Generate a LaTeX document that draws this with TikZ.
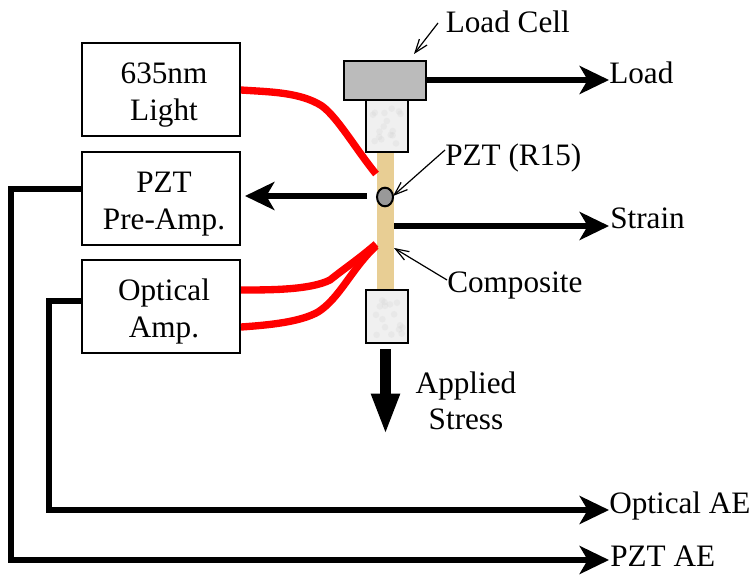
\documentclass[tikz,border=0pt]{standalone}
\usepackage{fontspec}
\setmainfont{Liberation Serif}
\usetikzlibrary{arrows.meta,shapes.geometric}
\definecolor{compcol}{HTML}{E8CE94}
\definecolor{gripcol}{HTML}{F0F0F0}
\definecolor{cellcol}{HTML}{BBBBBB}
\definecolor{dotcol}{HTML}{999999}
\newcommand{\shft}{\hspace*{4.5pt}}
\newcommand{\frst}{\shft\rule{0pt}{23.5pt}}
\tikzset{
  unit/.style={draw=black,line width=1.5pt,fill=white,anchor=north west,inner sep=0pt,align=center,text width=118.5pt,minimum height=69.75pt,font=\fontsize{23.4pt}{27.6pt}\selectfont},
  lbl/.style={inner sep=0pt,anchor=base west,font=\fontsize{23.4pt}{27.5pt}\selectfont},
  blockpart/.style={draw=black,line width=1.5pt,anchor=north west,inner sep=0pt},
  wire/.style={line width=4.1pt,black,-{Triangle[length=22pt,width=21pt,inset=6pt,sep=0pt]}},
  plain/.style={line width=4.1pt,black,line join=miter},
  fibre/.style={line width=5.5pt,red,line cap=butt},
  spot/.style={fill=black!20,fill opacity=0.2,draw=none},
  thin arrow/.style={line width=0.9pt,black,-{Straight Barb[length=10pt,width=13pt,angle'=40]}}
}
\begin{document}
\begin{tikzpicture}[x=0.75pt,y=-0.75pt]
\useasboundingbox (0,0) rectangle (752,574);
% specimen
\node[anchor=north west,fill=compcol,minimum width=12.75pt,minimum height=106pt,inner sep=0pt] (comp) at (377,150) {};
% grips
\node[blockpart,fill=gripcol,minimum width=31.3pt,minimum height=39pt] (top) at (365,99) {};
\node[blockpart,fill=gripcol,minimum width=31.3pt,minimum height=39.5pt] (bot) at (365,289) {};
\node[blockpart,fill=cellcol,minimum width=62pt,minimum height=29.25pt] (cell) at (342.5,60) {};
\node[draw=black,line width=1.5pt,fill=dotcol,ellipse,minimum width=12pt,minimum height=14pt,inner sep=0pt] (dot) at (385,197) {};
% grip mottling
\pgfmathsetseed{7}
\foreach \i in {1,...,16}{
  \pgfmathsetmacro{\sx}{371+rnd*32}
  \pgfmathsetmacro{\sy}{106+rnd*40}
  \fill[spot] (\sx,\sy) circle (2.5pt);
  \pgfmathsetmacro{\tx}{371+rnd*32}
  \pgfmathsetmacro{\ty}{296+rnd*40}
  \fill[spot] (\tx,\ty) circle (2.5pt);
}
% boxes
\node[unit] (light) at (81,42) {\frst 635nm\\\shft Light};
\node[unit] (pre) at (81,151) {\frst PZT\\\shft Pre-Amp.};
\node[unit] (oamp) at (81,259) {\frst Optical\\\shft Amp.};
% labels
\node[lbl] (lcell) at (445.5,33) {Load Cell};
\node[lbl] (lload) at (609,84) {Load};
\node[lbl] (lpzt) at (445,166) {PZT (R15)};
\node[lbl] (lstrain) at (610,228) {Strain};
\node[lbl] (lcomp) at (447,292) {Composite};
\node[lbl] (loae) at (609,513) {Optical AE};
\node[lbl] (lpae) at (610,566) {PZT AE};
\node[inner sep=0pt,align=center,anchor=base,font=\fontsize{23.4pt}{27pt}\selectfont] (lstress) at (466,429) {Applied\\Stress};
% coordinates
\coordinate (loadend) at (609,80);
\coordinate (strainstart) at (394,226);
\coordinate (strainend) at (609,226);
\coordinate (prestart) at (367,196);
\coordinate (preend) at (245,196);
\coordinate (stressstart) at (385.5,349);
\coordinate (stressend) at (385.5,435);
\coordinate (oaeend) at (609,510);
\coordinate (paeend) at (609,560);
\coordinate (f1) at (376,174);
\coordinate (f2) at (376,244);
\coordinate (f3) at (376,246);
% fibres
\draw[fibre] (light.east |- 0,90) .. controls (270,92) and (300,92) .. (322,106) .. controls (338,118) and (355,148) .. (f1);
\draw[fibre] (oamp.east |- 0,290) .. controls (270,290) and (310,290) .. (330,280) .. controls (345,268) and (360,258) .. (f2);
\draw[fibre] (oamp.east |- 0,327) .. controls (270,325) and (300,322) .. (318,312) .. controls (340,298) and (352,268) .. (f3);
% wires
\draw[wire] (cell.east |- loadend) -- (loadend);
\draw[wire] (strainstart) -- (strainend);
\draw[wire] (prestart) -- (preend);
\draw[plain,-{Triangle[length=31pt,width=19.5pt,inset=0pt,sep=0pt]},line width=8.2pt] (stressstart) -- (stressend);
\draw[wire] (oamp.west |- 0,301) -- (49,301) -- (49,510) -- (oaeend);
\draw[wire] (pre.west |- 0,189) -- (11,189) -- (11,560) -- (paeend);
% leader arrows
\draw[thin arrow] (438,23) -- (414,54);
\draw[thin arrow] (445,150) -- (393,196);
\draw[thin arrow] (447,280) -- (394,248);
\end{tikzpicture}
\end{document}
